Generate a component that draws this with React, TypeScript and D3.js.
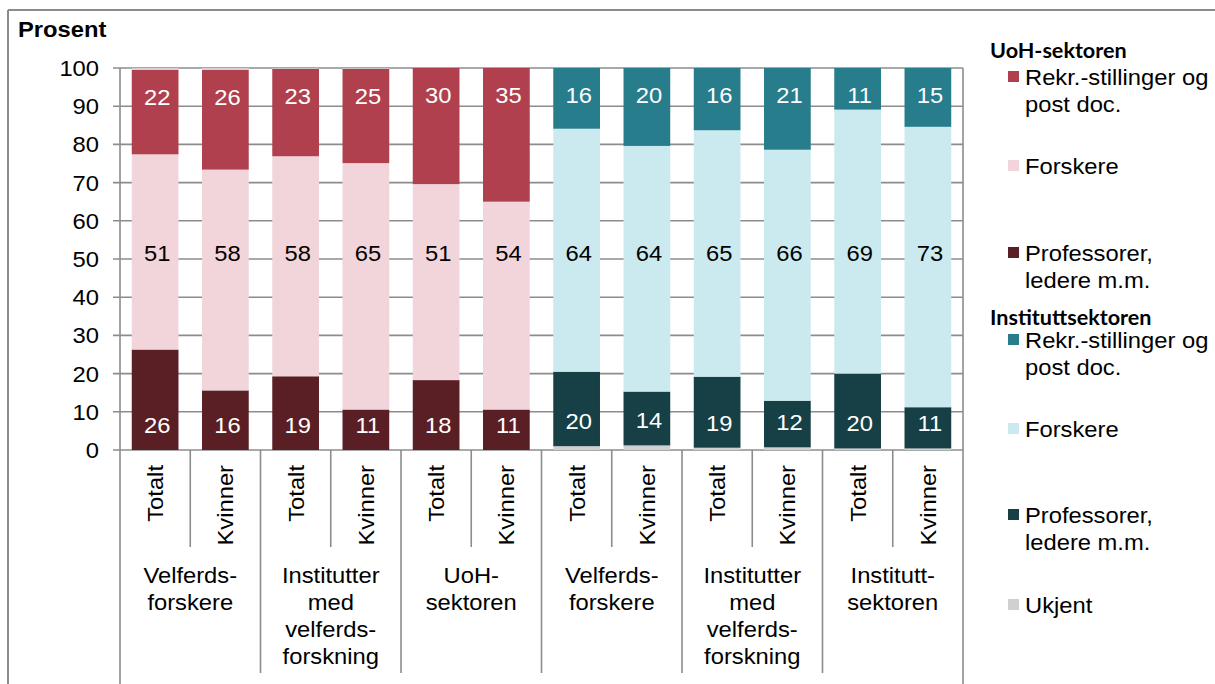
import React, { useEffect, useRef } from "react";
import * as d3 from "d3";

// kategorier langs x-aksen
const categories = [
  "Totalt", "Kvinner", "Totalt", "Kvinner", "Totalt", "Kvinner",
  "Totalt", "Kvinner", "Totalt", "Kvinner", "Totalt", "Kvinner",
];
const groups = [
  ["Velferds-", "forskere"],
  ["Institutter", "med", "velferds-", "forskning"],
  ["UoH-", "sektoren"],
  ["Velferds-", "forskere"],
  ["Institutter", "med", "velferds-", "forskning"],
  ["Institutt-", "sektoren"],
];
const sectors = [
  "uoh", "uoh", "uoh", "uoh", "uoh", "uoh",
  "inst", "inst", "inst", "inst", "inst", "inst",
];

// prosentandeler, lest av figuren
const uohProf = [26.3, 15.6, 19.3, 10.6, 18.3, 10.6, 0, 0, 0, 0, 0, 0];
const uohForsk = [51.1, 57.8, 57.6, 64.5, 51.3, 54.4, 0, 0, 0, 0, 0, 0];
const uohRekr = [22.1, 26.1, 22.9, 24.7, 30.4, 35.0, 0, 0, 0, 0, 0, 0];
const instProf = [0, 0, 0, 0, 0, 0, 19.5, 14.1, 18.6, 12.2, 19.6, 10.8];
const instForsk = [0, 0, 0, 0, 0, 0, 63.6, 64.3, 64.5, 65.7, 69.1, 73.4];
const instRekr = [0, 0, 0, 0, 0, 0, 15.9, 20.4, 16.3, 21.4, 10.9, 15.4];
const ukjent = [0.5, 0.5, 0.2, 0.2, 0, 0, 1.0, 1.2, 0.6, 0.7, 0.4, 0.4];

const yTicks = [0, 10, 20, 30, 40, 50, 60, 70, 80, 90, 100];

const colors: Record<string, string> = {
  uohRekr: "#b0404d",
  uohForsk: "#f2d5da",
  uohProf: "#5a1f25",
  instRekr: "#277d8b",
  instForsk: "#cbeaef",
  instProf: "#163f46",
  ukjent: "#d0d0d2",
};

const FONT = "'Liberation Sans', Arial, sans-serif";
const SX = 1.08; // teksten i originalen er litt strukket i bredden

const at = (x: number, y: number, rot = 0) =>
  `translate(${x},${y})${rot ? ` rotate(${rot})` : ""} scale(${SX},1)`;

export default function App() {
  const ref = useRef<SVGSVGElement>(null);

  useEffect(() => {
    const svg = d3.select(ref.current);
    svg.selectAll("*").remove();

    const x = d3
      .scaleBand<number>()
      .domain(d3.range(categories.length))
      .range([120, 963])
      .paddingInner(0.335)
      .paddingOuter(0.1675);

    const y = d3.scaleLinear().domain([0, 100]).range([450, 68]);

    // ramme
    svg.append("line").attr("x1", 8).attr("x2", 1215).attr("y1", 10).attr("y2", 10)
      .attr("stroke", "#8c8c8c").attr("stroke-width", 2);
    svg.append("line").attr("x1", 8).attr("x2", 8).attr("y1", 10).attr("y2", 684)
      .attr("stroke", "#8c8c8c").attr("stroke-width", 2);

    svg.append("text")
      .attr("transform", at(18, 37))
      .attr("font-family", FONT).attr("font-size", 22).attr("font-weight", "bold")
      .text("Prosent");

    // rutenett og y-akse
    const grid = svg.append("g");
    grid.selectAll("line")
      .data(yTicks)
      .join("line")
      .attr("x1", 113).attr("x2", 963)
      .attr("y1", d => y(d)).attr("y2", d => y(d))
      .attr("stroke", "#8c8c8c").attr("stroke-width", 1.6);
    grid.selectAll("text")
      .data(yTicks)
      .join("text")
      .attr("transform", d => at(99, y(d)))
      .attr("dy", "0.36em")
      .attr("text-anchor", "end")
      .attr("font-family", FONT).attr("font-size", 22)
      .text(d => d);

    // stabling
    const keys = ["ukjentBunn", "instProf", "instForsk", "instRekr", "uohProf", "uohForsk", "uohRekr", "ukjentTopp"];
    const rows = categories.map((_, i) => ({
      ukjentBunn: sectors[i] === "inst" ? ukjent[i] : 0,
      instProf: instProf[i],
      instForsk: instForsk[i],
      instRekr: instRekr[i],
      uohProf: uohProf[i],
      uohForsk: uohForsk[i],
      uohRekr: uohRekr[i],
      ukjentTopp: sectors[i] === "uoh" ? ukjent[i] : 0,
    }));
    const series = d3.stack<any>().keys(keys)(rows);
    const colorOf = (k: string) => (k.startsWith("ukjent") ? colors.ukjent : colors[k]);

    const layer = svg.append("g")
      .selectAll("g")
      .data(series)
      .join("g")
      .attr("fill", s => colorOf(s.key));
    layer.selectAll("rect")
      .data(s => s.map((d, i) => ({ d, i })).filter(o => o.d[1] - o.d[0] > 0))
      .join("rect")
      .attr("x", o => x(o.i)!)
      .attr("width", x.bandwidth())
      .attr("y", o => y(o.d[1]))
      .attr("height", o => y(o.d[0]) - y(o.d[1]));

    // dataetiketter
    const labels = svg.append("g")
      .attr("font-family", FONT).attr("font-size", 22).attr("text-anchor", "middle");
    const midY = (y(0) + y(100)) / 2 - 6;
    series.filter(s => !s.key.startsWith("ukjent")).forEach(s => {
      const k = s.key;
      const isForsk = k.endsWith("Forsk");
      labels.selectAll(null)
        .data(s.map((d, i) => ({ d, i })).filter(o => o.d[1] - o.d[0] > 0))
        .join("text")
        .attr("transform", o => {
          let ty = midY;
          if (k.endsWith("Rekr")) ty = y(o.d[1]) + 27;
          if (k.endsWith("Prof")) ty = y(o.d[0]) - 25;
          return at(x(o.i)! + x.bandwidth() / 2 + 2, ty);
        })
        .attr("dy", "0.36em")
        .attr("fill", isForsk ? "#000" : "#fff")
        .text(o => Math.round(o.d[1] - o.d[0]));
    });

    // høyre kant og akselinje
    svg.append("line").attr("x1", 963).attr("x2", 963).attr("y1", 68).attr("y2", 684)
      .attr("stroke", "#8c8c8c").attr("stroke-width", 1.6);
    svg.append("line").attr("x1", 120).attr("x2", 120).attr("y1", 68).attr("y2", 684)
      .attr("stroke", "#8c8c8c").attr("stroke-width", 1.6);

    // kategoriskiller
    const step = x.step();
    const seps = d3.range(1, categories.length);
    svg.append("g")
      .selectAll("line")
      .data(seps)
      .join("line")
      .attr("x1", k => 120 + k * step).attr("x2", k => 120 + k * step)
      .attr("y1", 450).attr("y2", k => (k % 2 === 0 ? 673 : 547))
      .attr("stroke", "#8c8c8c").attr("stroke-width", 1.6);

    // kategoritekst, rotert
    svg.append("g")
      .selectAll("text")
      .data(categories)
      .join("text")
      .attr("transform", (_, i) => at(x(i)! + x.bandwidth() / 2, 465, -90))
      .attr("dy", "0.36em")
      .attr("text-anchor", "end")
      .attr("font-family", FONT).attr("font-size", 22)
      .text(d => d);

    // gruppetekst
    const g2 = svg.append("g").attr("font-family", FONT).attr("font-size", 22).attr("text-anchor", "middle");
    groups.forEach((lines, gi) => {
      const cx = 120 + (gi * 2 + 1) * step;
      g2.selectAll(null)
        .data(lines)
        .join("text")
        .attr("transform", (_, j) => at(cx, 583 + j * 27))
        .text(d => d);
    });

    // legende
    const legend = svg.append("g").attr("font-family", FONT).attr("font-size", 22);
    const titles = [
      { text: "UoH-sektoren", y: 58 },
      { text: "Instituttsektoren", y: 325 },
    ];
    legend.selectAll("text.title")
      .data(titles)
      .join("text")
      .attr("class", "title")
      .attr("transform", d => at(990, d.y))
      .attr("font-family", "Lato, 'Open Sans', sans-serif")
      .attr("font-weight", "bold").attr("font-size", 20)
      .text(d => d.text);

    const items = [
      { key: "uohRekr", lines: ["Rekr.-stillinger og", "post doc."], y: 85 },
      { key: "uohForsk", lines: ["Forskere"], y: 174 },
      { key: "uohProf", lines: ["Professorer,", "ledere m.m."], y: 261 },
      { key: "instRekr", lines: ["Rekr.-stillinger og", "post doc."], y: 348 },
      { key: "instForsk", lines: ["Forskere"], y: 437 },
      { key: "instProf", lines: ["Professorer,", "ledere m.m."], y: 523 },
      { key: "ukjent", lines: ["Ukjent"], y: 613 },
    ];
    const item = legend.selectAll("g.item")
      .data(items)
      .join("g")
      .attr("class", "item");
    item.append("rect")
      .attr("x", 1008).attr("y", d => d.y - 14)
      .attr("width", 11).attr("height", 11)
      .attr("fill", d => colors[d.key]);
    item.selectAll("text")
      .data(d => d.lines.map((l, j) => ({ l, y: d.y + j * 27 })))
      .join("text")
      .attr("transform", t => at(1025, t.y))
      .text(t => t.l);
  }, []);

  return (
    <svg
      ref={ref}
      width={1215}
      height={684}
      style={{ position: "absolute", left: 0, top: 0, background: "#fff" }}
    />
  );
}
